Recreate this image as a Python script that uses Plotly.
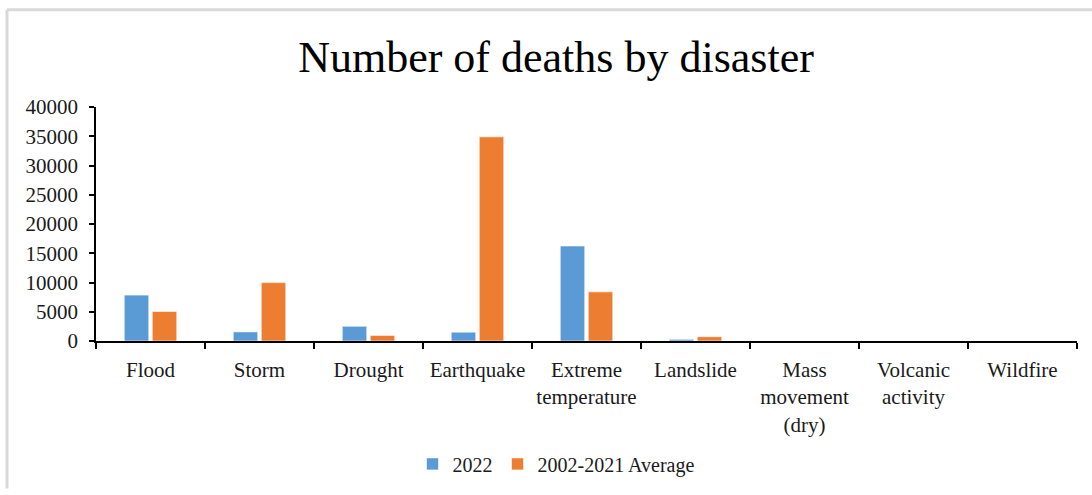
import plotly.graph_objects as go

# Disaster categories (multi-line labels as shown on the axis)
categories = [
    "Flood", "Storm", "Drought", "Earthquake", "Extreme<br>temperature",
    "Landslide", "Mass<br>movement<br>(dry)", "Volcanic<br>activity", "Wildfire",
]

# Number of deaths per disaster type
deaths_2022 = [7850, 1560, 2520, 1510, 16250, 290, 0, 0, 0]
deaths_avg_2002_2021 = [5050, 9980, 950, 34900, 8400, 730, 0, 0, 0]

series_names = ["2022", "2002-2021 Average"]
y_ticks = [0, 5000, 10000, 15000, 20000, 25000, 30000, 35000, 40000]

FONT = "Liberation Serif, Times New Roman, serif"
TEXT = "#1a1a1a"

fig = go.Figure()
fig.add_bar(
    x=categories, y=deaths_2022, name=series_names[0],
    marker=dict(color="#5B9BD5", line=dict(color="rgba(255,255,255,0.6)", width=1)),
)
fig.add_bar(
    x=categories, y=deaths_avg_2002_2021, name=series_names[1],
    marker=dict(color="#ED7D31", line=dict(color="rgba(255,255,255,0.6)", width=1)),
)

W, H = 1092, 495
L, R, T, B = 96, 15, 107, 150
pw, ph = W - L - R, H - T - B

def px_x(x):
    return (x - L) / pw

def px_y(y):
    return (H - B - y) / ph

fig.update_layout(
    width=W, height=H,
    margin=dict(l=L, r=R, t=T, b=B),
    paper_bgcolor="white", plot_bgcolor="white",
    font=dict(family=FONT, size=21, color=TEXT),
    title=dict(
        text="Number of deaths by disaster",
        font=dict(family=FONT, size=44, color="black"),
        x=px_x(556), xanchor="center", xref="paper",
        y=1 - 57 / H, yanchor="middle", yref="container",
    ),
    barmode="group", bargap=0.486, bargroupgap=0.125,
    showlegend=True,
    legend=dict(
        orientation="h", x=px_x(556), xanchor="center", y=px_y(470), yanchor="middle",
        font=dict(family=FONT, size=20, color=TEXT),
        itemwidth=30, tracegroupgap=0,
    ),
    shapes=[
        dict(type="line", xref="paper", yref="paper",
             x0=px_x(7), x1=px_x(1092), y0=px_y(8), y1=px_y(8),
             line=dict(color="#d9d9d9", width=3)),
        dict(type="line", xref="paper", yref="paper",
             x0=px_x(7), x1=px_x(7), y0=px_y(8), y1=px_y(495),
             line=dict(color="#d9d9d9", width=3)),
    ],
)

fig.update_xaxes(
    type="category",
    showline=True, linecolor="black", linewidth=1.5,
    ticks="outside", tickson="boundaries", ticklen=6, tickcolor="black", tickwidth=1.5,
    showgrid=False, zeroline=False,
    tickfont=dict(family=FONT, size=21, color=TEXT),
    tickangle=0, automargin=False,
    ticklabelstandoff=9,
)
fig.update_yaxes(
    range=[0, 40000], tickvals=y_ticks, ticktext=[str(v) for v in y_ticks],
    showline=True, linecolor="black", linewidth=1.5,
    ticks="outside", ticklen=5, tickcolor="black", tickwidth=1.5,
    showgrid=False, zeroline=False,
    tickfont=dict(family=FONT, size=21, color=TEXT),
    automargin=False,
    ticklabelstandoff=7,
)

fig.write_html("out.html")
